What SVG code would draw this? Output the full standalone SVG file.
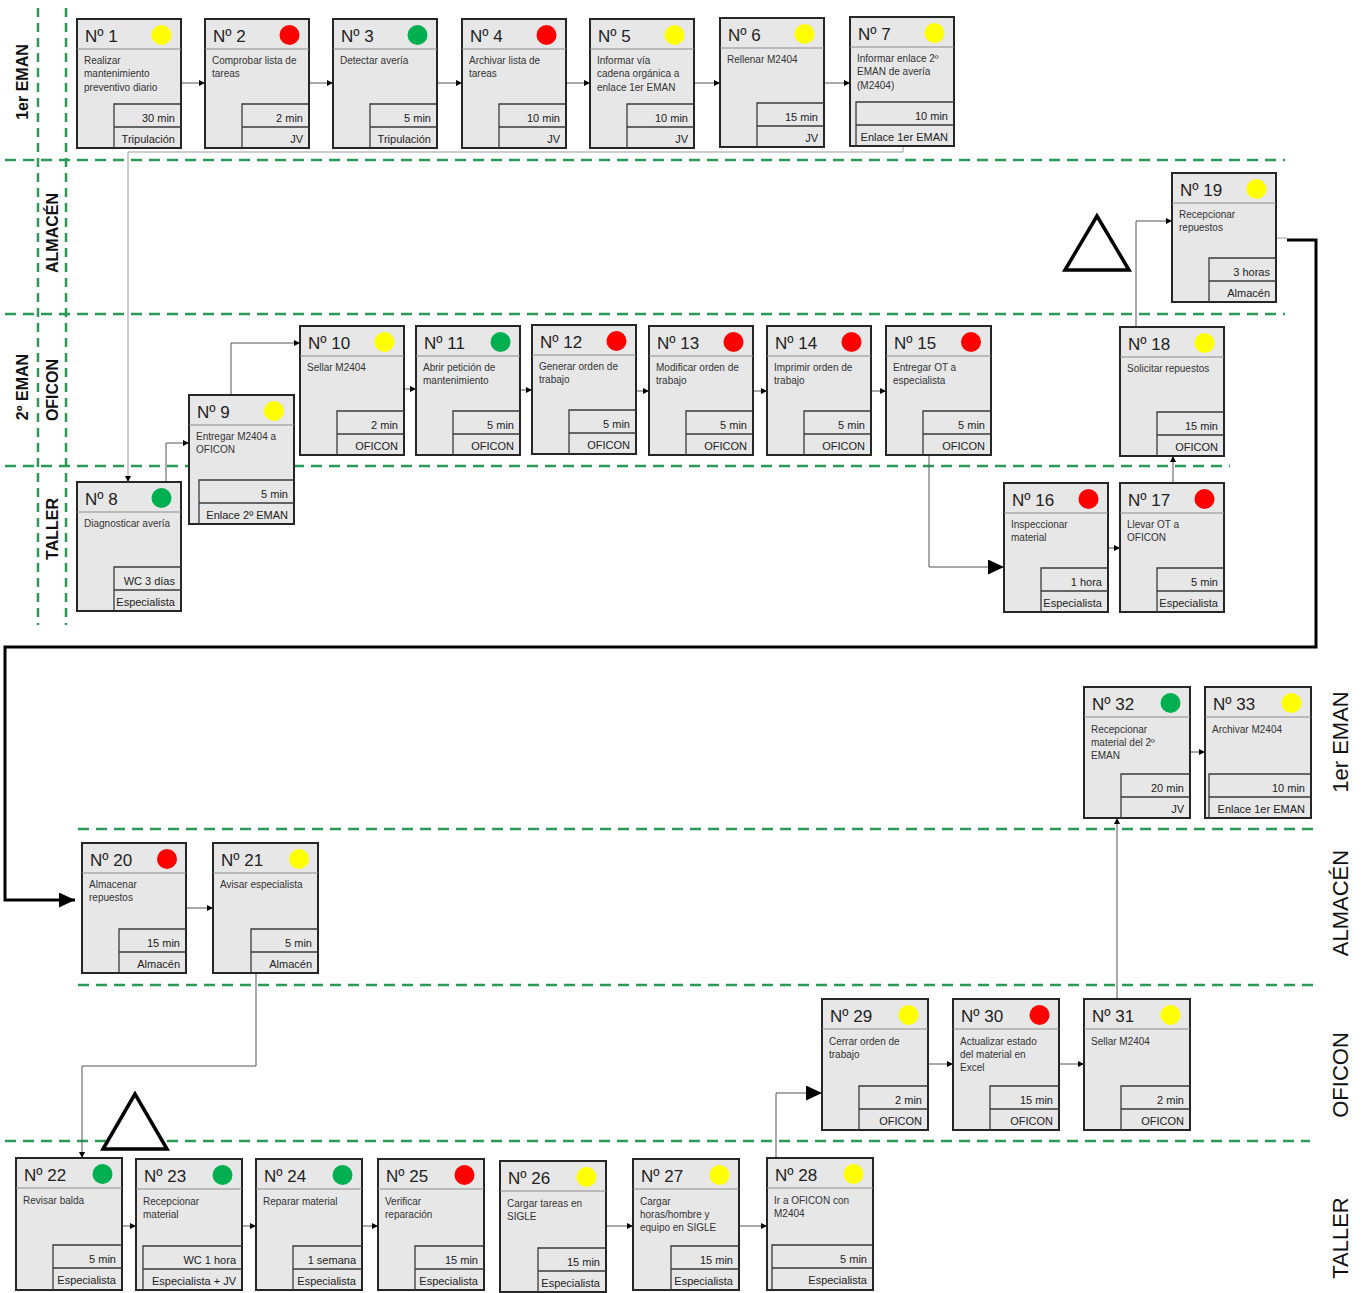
<svg xmlns="http://www.w3.org/2000/svg" width="1367" height="1293" viewBox="0 0 1367 1293">
<style>
.bg{fill:#ffffff}
.box{fill:#e7e7e7;stroke:#262626;stroke-width:2}
.sep{stroke:#8c8c8c;stroke-width:1}
.sub{fill:none;stroke:#3a3a3a;stroke-width:1.3}
.num{font-family:"Liberation Sans",Arial,sans-serif;font-size:17px;fill:#222}
.desc{font-family:"Liberation Sans",Arial,sans-serif;font-size:10px;fill:#333}
.t{font-family:"Liberation Sans",Arial,sans-serif;font-size:11px;fill:#222;text-anchor:end}
.y{fill:#ffff00}.r{fill:#ff0000}.g{fill:#00b050}
.lane{stroke:#2a9a56;stroke-width:2.5;stroke-dasharray:11 7;fill:none}
.vlane{stroke:#2a9a56;stroke-width:2.5;stroke-dasharray:9 6;fill:none}
.lbl{font-family:"Liberation Sans",Arial,sans-serif;font-size:16px;font-weight:bold;fill:#111;text-anchor:middle}
.lblr{font-family:"Liberation Sans",Arial,sans-serif;font-size:22px;fill:#111;text-anchor:middle}
.conn{stroke:#555;stroke-width:1;fill:none}
.connl{stroke:#9a9a9a;stroke-width:1;fill:none}
.thick{stroke:#000;stroke-width:3;fill:none}
.tri{fill:#fff;stroke:#000;stroke-width:3.5;stroke-linejoin:miter}
</style>
<defs>
<marker id="a" markerUnits="userSpaceOnUse" markerWidth="7" markerHeight="7" refX="6" refY="3" orient="auto"><path d="M0,0 L6,3 L0,6 z" fill="#000"/></marker>
<marker id="ab" markerUnits="userSpaceOnUse" markerWidth="17" markerHeight="16" refX="16" refY="7.5" orient="auto"><path d="M0,0 L16,7.5 L0,15 z" fill="#000"/></marker>
</defs>
<rect class="bg" x="0" y="0" width="1367" height="1293"/>

<g id="lanes">
<line class="lane" x1="5" y1="160" x2="1285" y2="160"/>
<line class="lane" x1="5" y1="314" x2="1285" y2="314"/>
<line class="lane" x1="5" y1="466" x2="1230" y2="466"/>
<line class="vlane" x1="38" y1="8" x2="38" y2="625"/>
<line class="vlane" x1="66" y1="8" x2="66" y2="625"/>
<line class="lane" x1="78" y1="829" x2="1315" y2="829"/>
<line class="lane" x1="78" y1="985" x2="1315" y2="985"/>
<line class="lane" x1="5" y1="1141" x2="1310" y2="1141"/>
<text class="lbl" transform="translate(28,82) rotate(-90)">1er EMAN</text>
<text class="lbl" transform="translate(58,233) rotate(-90)">ALMACÉN</text>
<text class="lbl" transform="translate(28,387) rotate(-90)">2º EMAN</text>
<text class="lbl" transform="translate(58,390) rotate(-90)">OFICON</text>
<text class="lbl" transform="translate(58,529) rotate(-90)">TALLER</text>
<text class="lblr" transform="translate(1348,742) rotate(-90)">1er EMAN</text>
<text class="lblr" transform="translate(1348,903) rotate(-90)">ALMACÉN</text>
<text class="lblr" transform="translate(1348,1075) rotate(-90)">OFICON</text>
<text class="lblr" transform="translate(1348,1238) rotate(-90)">TALLER</text>
</g>

<g id="symbols">
<polygon class="tri" points="1097,216 1065,270 1129,270"/>
<polygon class="tri" points="135,1094 103,1149 167,1149"/>
</g>

<g id="connectors">
<line class="conn" x1="181" y1="83" x2="205" y2="83" marker-end="url(#a)"/>
<line class="conn" x1="309" y1="83" x2="333" y2="83" marker-end="url(#a)"/>
<line class="conn" x1="437" y1="83" x2="462" y2="83" marker-end="url(#a)"/>
<line class="conn" x1="566" y1="83" x2="590" y2="83" marker-end="url(#a)"/>
<line class="conn" x1="694" y1="83" x2="720" y2="83" marker-end="url(#a)"/>
<line class="conn" x1="824" y1="83" x2="850" y2="83" marker-end="url(#a)"/>
<polyline class="connl" points="903,146 903,152 128,152 128,482" marker-end="url(#a)"/>
<polyline class="conn" points="166,482 166,443 189,443" marker-end="url(#a)"/>
<polyline class="conn" points="231,395 231,343 300,343" marker-end="url(#a)"/>
<line class="conn" x1="404" y1="389" x2="416" y2="389" marker-end="url(#a)"/>
<line class="conn" x1="520" y1="390" x2="532" y2="390" marker-end="url(#a)"/>
<line class="conn" x1="636" y1="391" x2="649" y2="391" marker-end="url(#a)"/>
<line class="conn" x1="753" y1="391" x2="767" y2="391" marker-end="url(#a)"/>
<line class="conn" x1="871" y1="391" x2="886" y2="391" marker-end="url(#a)"/>
<polyline class="conn" points="929,455 929,567 1004,567" marker-end="url(#ab)"/>
<line class="conn" x1="1108" y1="548" x2="1120" y2="548" marker-end="url(#a)"/>
<line class="conn" x1="1173" y1="483" x2="1173" y2="456" marker-end="url(#a)"/>
<polyline class="conn" points="1136,327 1136,221 1172,221" marker-end="url(#a)"/>
<line class="connl" x1="1276" y1="238" x2="1287" y2="238"/>
<polyline class="thick" points="1287,240 1316,240 1316,647 5,647 5,900 75,900" marker-end="url(#ab)"/>
<line class="conn" x1="186" y1="908" x2="213" y2="908" marker-end="url(#a)"/>
<polyline class="conn" points="256,973 256,1066 82,1066 82,1158" marker-end="url(#a)"/>
<line class="conn" x1="122" y1="1226" x2="136" y2="1226" marker-end="url(#a)"/>
<line class="conn" x1="242" y1="1226" x2="256" y2="1226" marker-end="url(#a)"/>
<line class="conn" x1="362" y1="1226" x2="378" y2="1226" marker-end="url(#a)"/>
<line class="conn" x1="606" y1="1226" x2="633" y2="1226" marker-end="url(#a)"/>
<line class="conn" x1="739" y1="1226" x2="767" y2="1226" marker-end="url(#a)"/>
<polyline class="conn" points="776,1158 776,1093 822,1093" marker-end="url(#ab)"/>
<line class="conn" x1="928" y1="1064" x2="953" y2="1064" marker-end="url(#a)"/>
<line class="conn" x1="1059" y1="1064" x2="1084" y2="1064" marker-end="url(#a)"/>
<line class="conn" x1="1117" y1="999" x2="1117" y2="818" marker-end="url(#a)"/>
<line class="conn" x1="1190" y1="752" x2="1205" y2="752" marker-end="url(#a)"/>
</g>

<g id="n1" transform="translate(77,19)"><rect class="box" width="104" height="129"/><line class="sep" x1="0" y1="30" x2="104" y2="30"/><text class="num" x="8" y="22.5">Nº 1</text><circle class="y" cx="84.5" cy="16" r="10"/><text class="desc"><tspan x="7" y="45">Realizar</tspan><tspan x="7" y="58.3">mantenimiento</tspan><tspan x="7" y="71.6">preventivo diario</tspan></text><path class="sub" d="M37,129 V85 H104 M37,108 H104"/><text class="t" x="98" y="102.5">30 min</text><text class="t" x="98" y="123.5">Tripulación</text></g>

<g id="n2" transform="translate(205,19)"><rect class="box" width="104" height="129"/><line class="sep" x1="0" y1="30" x2="104" y2="30"/><text class="num" x="8" y="22.5">Nº 2</text><circle class="r" cx="84.5" cy="16" r="10"/><text class="desc"><tspan x="7" y="45">Comprobar lista de</tspan><tspan x="7" y="58.3">tareas</tspan></text><path class="sub" d="M37,129 V85 H104 M37,108 H104"/><text class="t" x="98" y="102.5">2 min</text><text class="t" x="98" y="123.5">JV</text></g>

<g id="n3" transform="translate(333,19)"><rect class="box" width="104" height="129"/><line class="sep" x1="0" y1="30" x2="104" y2="30"/><text class="num" x="8" y="22.5">Nº 3</text><circle class="g" cx="84.5" cy="16" r="10"/><text class="desc"><tspan x="7" y="45">Detectar avería</tspan></text><path class="sub" d="M37,129 V85 H104 M37,108 H104"/><text class="t" x="98" y="102.5">5 min</text><text class="t" x="98" y="123.5">Tripulación</text></g>

<g id="n4" transform="translate(462,19)"><rect class="box" width="104" height="129"/><line class="sep" x1="0" y1="30" x2="104" y2="30"/><text class="num" x="8" y="22.5">Nº 4</text><circle class="r" cx="84.5" cy="16" r="10"/><text class="desc"><tspan x="7" y="45">Archivar lista de</tspan><tspan x="7" y="58.3">tareas</tspan></text><path class="sub" d="M37,129 V85 H104 M37,108 H104"/><text class="t" x="98" y="102.5">10 min</text><text class="t" x="98" y="123.5">JV</text></g>

<g id="n5" transform="translate(590,19)"><rect class="box" width="104" height="129"/><line class="sep" x1="0" y1="30" x2="104" y2="30"/><text class="num" x="8" y="22.5">Nº 5</text><circle class="y" cx="84.5" cy="16" r="10"/><text class="desc"><tspan x="7" y="45">Informar vía</tspan><tspan x="7" y="58.3">cadena orgánica a</tspan><tspan x="7" y="71.6">enlace 1er EMAN</tspan></text><path class="sub" d="M37,129 V85 H104 M37,108 H104"/><text class="t" x="98" y="102.5">10 min</text><text class="t" x="98" y="123.5">JV</text></g>

<g id="n6" transform="translate(720,18)"><rect class="box" width="104" height="129"/><line class="sep" x1="0" y1="30" x2="104" y2="30"/><text class="num" x="8" y="22.5">Nº 6</text><circle class="y" cx="84.5" cy="16" r="10"/><text class="desc"><tspan x="7" y="45">Rellenar M2404</tspan></text><path class="sub" d="M37,129 V85 H104 M37,108 H104"/><text class="t" x="98" y="102.5">15 min</text><text class="t" x="98" y="123.5">JV</text></g>

<g id="n7" transform="translate(850,17)"><rect class="box" width="104" height="129"/><line class="sep" x1="0" y1="30" x2="104" y2="30"/><text class="num" x="8" y="22.5">Nº 7</text><circle class="y" cx="84.5" cy="16" r="10"/><text class="desc"><tspan x="7" y="45">Informar enlace 2º</tspan><tspan x="7" y="58.3">EMAN de avería</tspan><tspan x="7" y="71.6">(M2404)</tspan></text><path class="sub" d="M6,129 V85 H104 M6,108 H104"/><text class="t" x="98" y="102.5">10 min</text><text class="t" x="98" y="123.5">Enlace 1er EMAN</text></g>

<g id="n8" transform="translate(77,482)"><rect class="box" width="104" height="129"/><line class="sep" x1="0" y1="30" x2="104" y2="30"/><text class="num" x="8" y="22.5">Nº 8</text><circle class="g" cx="84.5" cy="16" r="10"/><text class="desc"><tspan x="7" y="45">Diagnosticar avería</tspan></text><path class="sub" d="M37,129 V85 H104 M37,108 H104"/><text class="t" x="98" y="102.5">WC 3 días</text><text class="t" x="98" y="123.5">Especialista</text></g>

<g id="n9" transform="translate(189,395)"><rect class="box" width="105" height="129"/><line class="sep" x1="0" y1="30" x2="105" y2="30"/><text class="num" x="8" y="22.5">Nº 9</text><circle class="y" cx="85" cy="16" r="10"/><text class="desc"><tspan x="7" y="45">Entregar M2404 a</tspan><tspan x="7" y="58.3">OFICON</tspan></text><path class="sub" d="M10,129 V85 H105 M10,108 H105"/><text class="t" x="99" y="102.5">5 min</text><text class="t" x="99" y="123.5">Enlace 2º EMAN</text></g>

<g id="n10" transform="translate(300,326)"><rect class="box" width="104" height="129"/><line class="sep" x1="0" y1="30" x2="104" y2="30"/><text class="num" x="8" y="22.5">Nº 10</text><circle class="y" cx="84.5" cy="16" r="10"/><text class="desc"><tspan x="7" y="45">Sellar M2404</tspan></text><path class="sub" d="M37,129 V85 H104 M37,108 H104"/><text class="t" x="98" y="102.5">2 min</text><text class="t" x="98" y="123.5">OFICON</text></g>

<g id="n11" transform="translate(416,326)"><rect class="box" width="104" height="129"/><line class="sep" x1="0" y1="30" x2="104" y2="30"/><text class="num" x="8" y="22.5">Nº 11</text><circle class="g" cx="84.5" cy="16" r="10"/><text class="desc"><tspan x="7" y="45">Abrir petición de</tspan><tspan x="7" y="58.3">mantenimiento</tspan></text><path class="sub" d="M37,129 V85 H104 M37,108 H104"/><text class="t" x="98" y="102.5">5 min</text><text class="t" x="98" y="123.5">OFICON</text></g>

<g id="n12" transform="translate(532,325)"><rect class="box" width="104" height="129"/><line class="sep" x1="0" y1="30" x2="104" y2="30"/><text class="num" x="8" y="22.5">Nº 12</text><circle class="r" cx="84.5" cy="16" r="10"/><text class="desc"><tspan x="7" y="45">Generar orden de</tspan><tspan x="7" y="58.3">trabajo</tspan></text><path class="sub" d="M37,129 V85 H104 M37,108 H104"/><text class="t" x="98" y="102.5">5 min</text><text class="t" x="98" y="123.5">OFICON</text></g>

<g id="n13" transform="translate(649,326)"><rect class="box" width="104" height="129"/><line class="sep" x1="0" y1="30" x2="104" y2="30"/><text class="num" x="8" y="22.5">Nº 13</text><circle class="r" cx="84.5" cy="16" r="10"/><text class="desc"><tspan x="7" y="45">Modificar orden de</tspan><tspan x="7" y="58.3">trabajo</tspan></text><path class="sub" d="M37,129 V85 H104 M37,108 H104"/><text class="t" x="98" y="102.5">5 min</text><text class="t" x="98" y="123.5">OFICON</text></g>

<g id="n14" transform="translate(767,326)"><rect class="box" width="104" height="129"/><line class="sep" x1="0" y1="30" x2="104" y2="30"/><text class="num" x="8" y="22.5">Nº 14</text><circle class="r" cx="84.5" cy="16" r="10"/><text class="desc"><tspan x="7" y="45">Imprimir orden de</tspan><tspan x="7" y="58.3">trabajo</tspan></text><path class="sub" d="M37,129 V85 H104 M37,108 H104"/><text class="t" x="98" y="102.5">5 min</text><text class="t" x="98" y="123.5">OFICON</text></g>

<g id="n15" transform="translate(886,326)"><rect class="box" width="105" height="129"/><line class="sep" x1="0" y1="30" x2="105" y2="30"/><text class="num" x="8" y="22.5">Nº 15</text><circle class="r" cx="85" cy="16" r="10"/><text class="desc"><tspan x="7" y="45">Entregar OT a</tspan><tspan x="7" y="58.3">especialista</tspan></text><path class="sub" d="M37,129 V85 H105 M37,108 H105"/><text class="t" x="99" y="102.5">5 min</text><text class="t" x="99" y="123.5">OFICON</text></g>

<g id="n16" transform="translate(1004,483)"><rect class="box" width="104" height="129"/><line class="sep" x1="0" y1="30" x2="104" y2="30"/><text class="num" x="8" y="22.5">Nº 16</text><circle class="r" cx="84.5" cy="16" r="10"/><text class="desc"><tspan x="7" y="45">Inspeccionar</tspan><tspan x="7" y="58.3">material</tspan></text><path class="sub" d="M37,129 V85 H104 M37,108 H104"/><text class="t" x="98" y="102.5">1 hora</text><text class="t" x="98" y="123.5">Especialista</text></g>

<g id="n17" transform="translate(1120,483)"><rect class="box" width="104" height="129"/><line class="sep" x1="0" y1="30" x2="104" y2="30"/><text class="num" x="8" y="22.5">Nº 17</text><circle class="r" cx="84.5" cy="16" r="10"/><text class="desc"><tspan x="7" y="45">Llevar OT a</tspan><tspan x="7" y="58.3">OFICON</tspan></text><path class="sub" d="M37,129 V85 H104 M37,108 H104"/><text class="t" x="98" y="102.5">5 min</text><text class="t" x="98" y="123.5">Especialista</text></g>

<g id="n18" transform="translate(1120,327)"><rect class="box" width="104" height="129"/><line class="sep" x1="0" y1="30" x2="104" y2="30"/><text class="num" x="8" y="22.5">Nº 18</text><circle class="y" cx="84.5" cy="16" r="10"/><text class="desc"><tspan x="7" y="45">Solicitar repuestos</tspan></text><path class="sub" d="M37,129 V85 H104 M37,108 H104"/><text class="t" x="98" y="102.5">15 min</text><text class="t" x="98" y="123.5">OFICON</text></g>

<g id="n19" transform="translate(1172,173)"><rect class="box" width="104" height="129"/><line class="sep" x1="0" y1="30" x2="104" y2="30"/><text class="num" x="8" y="22.5">Nº 19</text><circle class="y" cx="84.5" cy="16" r="10"/><text class="desc"><tspan x="7" y="45">Recepcionar</tspan><tspan x="7" y="58.3">repuestos</tspan></text><path class="sub" d="M37,129 V85 H104 M37,108 H104"/><text class="t" x="98" y="102.5">3 horas</text><text class="t" x="98" y="123.5">Almacén</text></g>

<g id="n20" transform="translate(82,843)"><rect class="box" width="104" height="130"/><line class="sep" x1="0" y1="30" x2="104" y2="30"/><text class="num" x="8" y="22.5">Nº 20</text><circle class="r" cx="85" cy="16" r="10"/><text class="desc"><tspan x="7" y="45">Almacenar</tspan><tspan x="7" y="58.3">repuestos</tspan></text><path class="sub" d="M37,130 V86 H104 M37,109 H104"/><text class="t" x="98" y="103.5">15 min</text><text class="t" x="98" y="124.5">Almacén</text></g>

<g id="n21" transform="translate(213,843)"><rect class="box" width="105" height="130"/><line class="sep" x1="0" y1="30" x2="105" y2="30"/><text class="num" x="8" y="22.5">Nº 21</text><circle class="y" cx="86" cy="16" r="10"/><text class="desc"><tspan x="7" y="45">Avisar especialista</tspan></text><path class="sub" d="M38,130 V86 H105 M38,109 H105"/><text class="t" x="99" y="103.5">5 min</text><text class="t" x="99" y="124.5">Almacén</text></g>

<g id="n22" transform="translate(16,1158)"><rect class="box" width="106" height="132"/><line class="sep" x1="0" y1="30" x2="106" y2="30"/><text class="num" x="8" y="23">Nº 22</text><circle class="g" cx="86.5" cy="16" r="10"/><text class="desc"><tspan x="7" y="45.5">Revisar balda</tspan></text><path class="sub" d="M37,132 V87 H106 M37,110 H106"/><text class="t" x="100" y="104.5">5 min</text><text class="t" x="100" y="126">Especialista</text></g>

<g id="n23" transform="translate(136,1159)"><rect class="box" width="106" height="131"/><line class="sep" x1="0" y1="30" x2="106" y2="30"/><text class="num" x="8" y="23">Nº 23</text><circle class="g" cx="86.5" cy="16" r="10"/><text class="desc"><tspan x="7" y="45.5">Recepcionar</tspan><tspan x="7" y="58.8">material</tspan></text><path class="sub" d="M7,131 V87 H106 M7,110 H106"/><text class="t" x="100" y="104.5">WC 1 hora</text><text class="t" x="100" y="125.5">Especialista + JV</text></g>

<g id="n24" transform="translate(256,1159)"><rect class="box" width="106" height="131"/><line class="sep" x1="0" y1="30" x2="106" y2="30"/><text class="num" x="8" y="23">Nº 24</text><circle class="g" cx="86.5" cy="16" r="10"/><text class="desc"><tspan x="7" y="45.5">Reparar material</tspan></text><path class="sub" d="M37,131 V87 H106 M37,110 H106"/><text class="t" x="100" y="104.5">1 semana</text><text class="t" x="100" y="125.5">Especialista</text></g>

<g id="n25" transform="translate(378,1159)"><rect class="box" width="106" height="131"/><line class="sep" x1="0" y1="30" x2="106" y2="30"/><text class="num" x="8" y="23">Nº 25</text><circle class="r" cx="86.5" cy="16" r="10"/><text class="desc"><tspan x="7" y="45.5">Verificar</tspan><tspan x="7" y="58.8">reparación</tspan></text><path class="sub" d="M37,131 V87 H106 M37,110 H106"/><text class="t" x="100" y="104.5">15 min</text><text class="t" x="100" y="125.5">Especialista</text></g>

<g id="n26" transform="translate(500,1161)"><rect class="box" width="106" height="131"/><line class="sep" x1="0" y1="30" x2="106" y2="30"/><text class="num" x="8" y="23">Nº 26</text><circle class="y" cx="86.5" cy="16" r="10"/><text class="desc"><tspan x="7" y="45.5">Cargar tareas en</tspan><tspan x="7" y="58.8">SIGLE</tspan></text><path class="sub" d="M38,131 V87 H106 M38,110 H106"/><text class="t" x="100" y="104.5">15 min</text><text class="t" x="100" y="125.5">Especialista</text></g>

<g id="n27" transform="translate(633,1159)"><rect class="box" width="106" height="131"/><line class="sep" x1="0" y1="30" x2="106" y2="30"/><text class="num" x="8" y="23">Nº 27</text><circle class="y" cx="86.5" cy="16" r="10"/><text class="desc"><tspan x="7" y="45.5">Cargar</tspan><tspan x="7" y="58.8">horas/hombre y</tspan><tspan x="7" y="72.1">equipo en SIGLE</tspan></text><path class="sub" d="M38,131 V87 H106 M38,110 H106"/><text class="t" x="100" y="104.5">15 min</text><text class="t" x="100" y="125.5">Especialista</text></g>

<g id="n28" transform="translate(767,1158)"><rect class="box" width="106" height="132"/><line class="sep" x1="0" y1="30" x2="106" y2="30"/><text class="num" x="8" y="23">Nº 28</text><circle class="y" cx="86.5" cy="16" r="10"/><text class="desc"><tspan x="7" y="45.5">Ir a OFICON con</tspan><tspan x="7" y="58.8">M2404</tspan></text><path class="sub" d="M5,132 V87 H106 M5,110 H106"/><text class="t" x="100" y="104.5">5 min</text><text class="t" x="100" y="126">Especialista</text></g>

<g id="n29" transform="translate(822,999)"><rect class="box" width="106" height="131"/><line class="sep" x1="0" y1="30" x2="106" y2="30"/><text class="num" x="8" y="23">Nº 29</text><circle class="y" cx="86.5" cy="16" r="10"/><text class="desc"><tspan x="7" y="45.5">Cerrar orden de</tspan><tspan x="7" y="58.8">trabajo</tspan></text><path class="sub" d="M37,131 V87 H106 M37,110 H106"/><text class="t" x="100" y="104.5">2 min</text><text class="t" x="100" y="125.5">OFICON</text></g>

<g id="n30" transform="translate(953,999)"><rect class="box" width="106" height="131"/><line class="sep" x1="0" y1="30" x2="106" y2="30"/><text class="num" x="8" y="23">Nº 30</text><circle class="r" cx="86.5" cy="16" r="10"/><text class="desc"><tspan x="7" y="45.5">Actualizar estado</tspan><tspan x="7" y="58.8">del material en</tspan><tspan x="7" y="72.1">Excel</tspan></text><path class="sub" d="M37,131 V87 H106 M37,110 H106"/><text class="t" x="100" y="104.5">15 min</text><text class="t" x="100" y="125.5">OFICON</text></g>

<g id="n31" transform="translate(1084,999)"><rect class="box" width="106" height="131"/><line class="sep" x1="0" y1="30" x2="106" y2="30"/><text class="num" x="8" y="23">Nº 31</text><circle class="y" cx="86.5" cy="16" r="10"/><text class="desc"><tspan x="7" y="45.5">Sellar M2404</tspan></text><path class="sub" d="M37,131 V87 H106 M37,110 H106"/><text class="t" x="100" y="104.5">2 min</text><text class="t" x="100" y="125.5">OFICON</text></g>

<g id="n32" transform="translate(1084,687)"><rect class="box" width="106" height="131"/><line class="sep" x1="0" y1="30" x2="106" y2="30"/><text class="num" x="8" y="23">Nº 32</text><circle class="g" cx="86.5" cy="16" r="10"/><text class="desc"><tspan x="7" y="45.5">Recepcionar</tspan><tspan x="7" y="58.8">material del 2º</tspan><tspan x="7" y="72.1">EMAN</tspan></text><path class="sub" d="M37,131 V87 H106 M37,110 H106"/><text class="t" x="100" y="104.5">20 min</text><text class="t" x="100" y="125.5">JV</text></g>

<g id="n33" transform="translate(1205,687)"><rect class="box" width="106" height="131"/><line class="sep" x1="0" y1="30" x2="106" y2="30"/><text class="num" x="8" y="23">Nº 33</text><circle class="y" cx="86.5" cy="16" r="10"/><text class="desc"><tspan x="7" y="45.5">Archivar M2404</tspan></text><path class="sub" d="M4,131 V87 H106 M4,110 H106"/><text class="t" x="100" y="104.5">10 min</text><text class="t" x="100" y="125.5">Enlace 1er EMAN</text></g>
</svg>
